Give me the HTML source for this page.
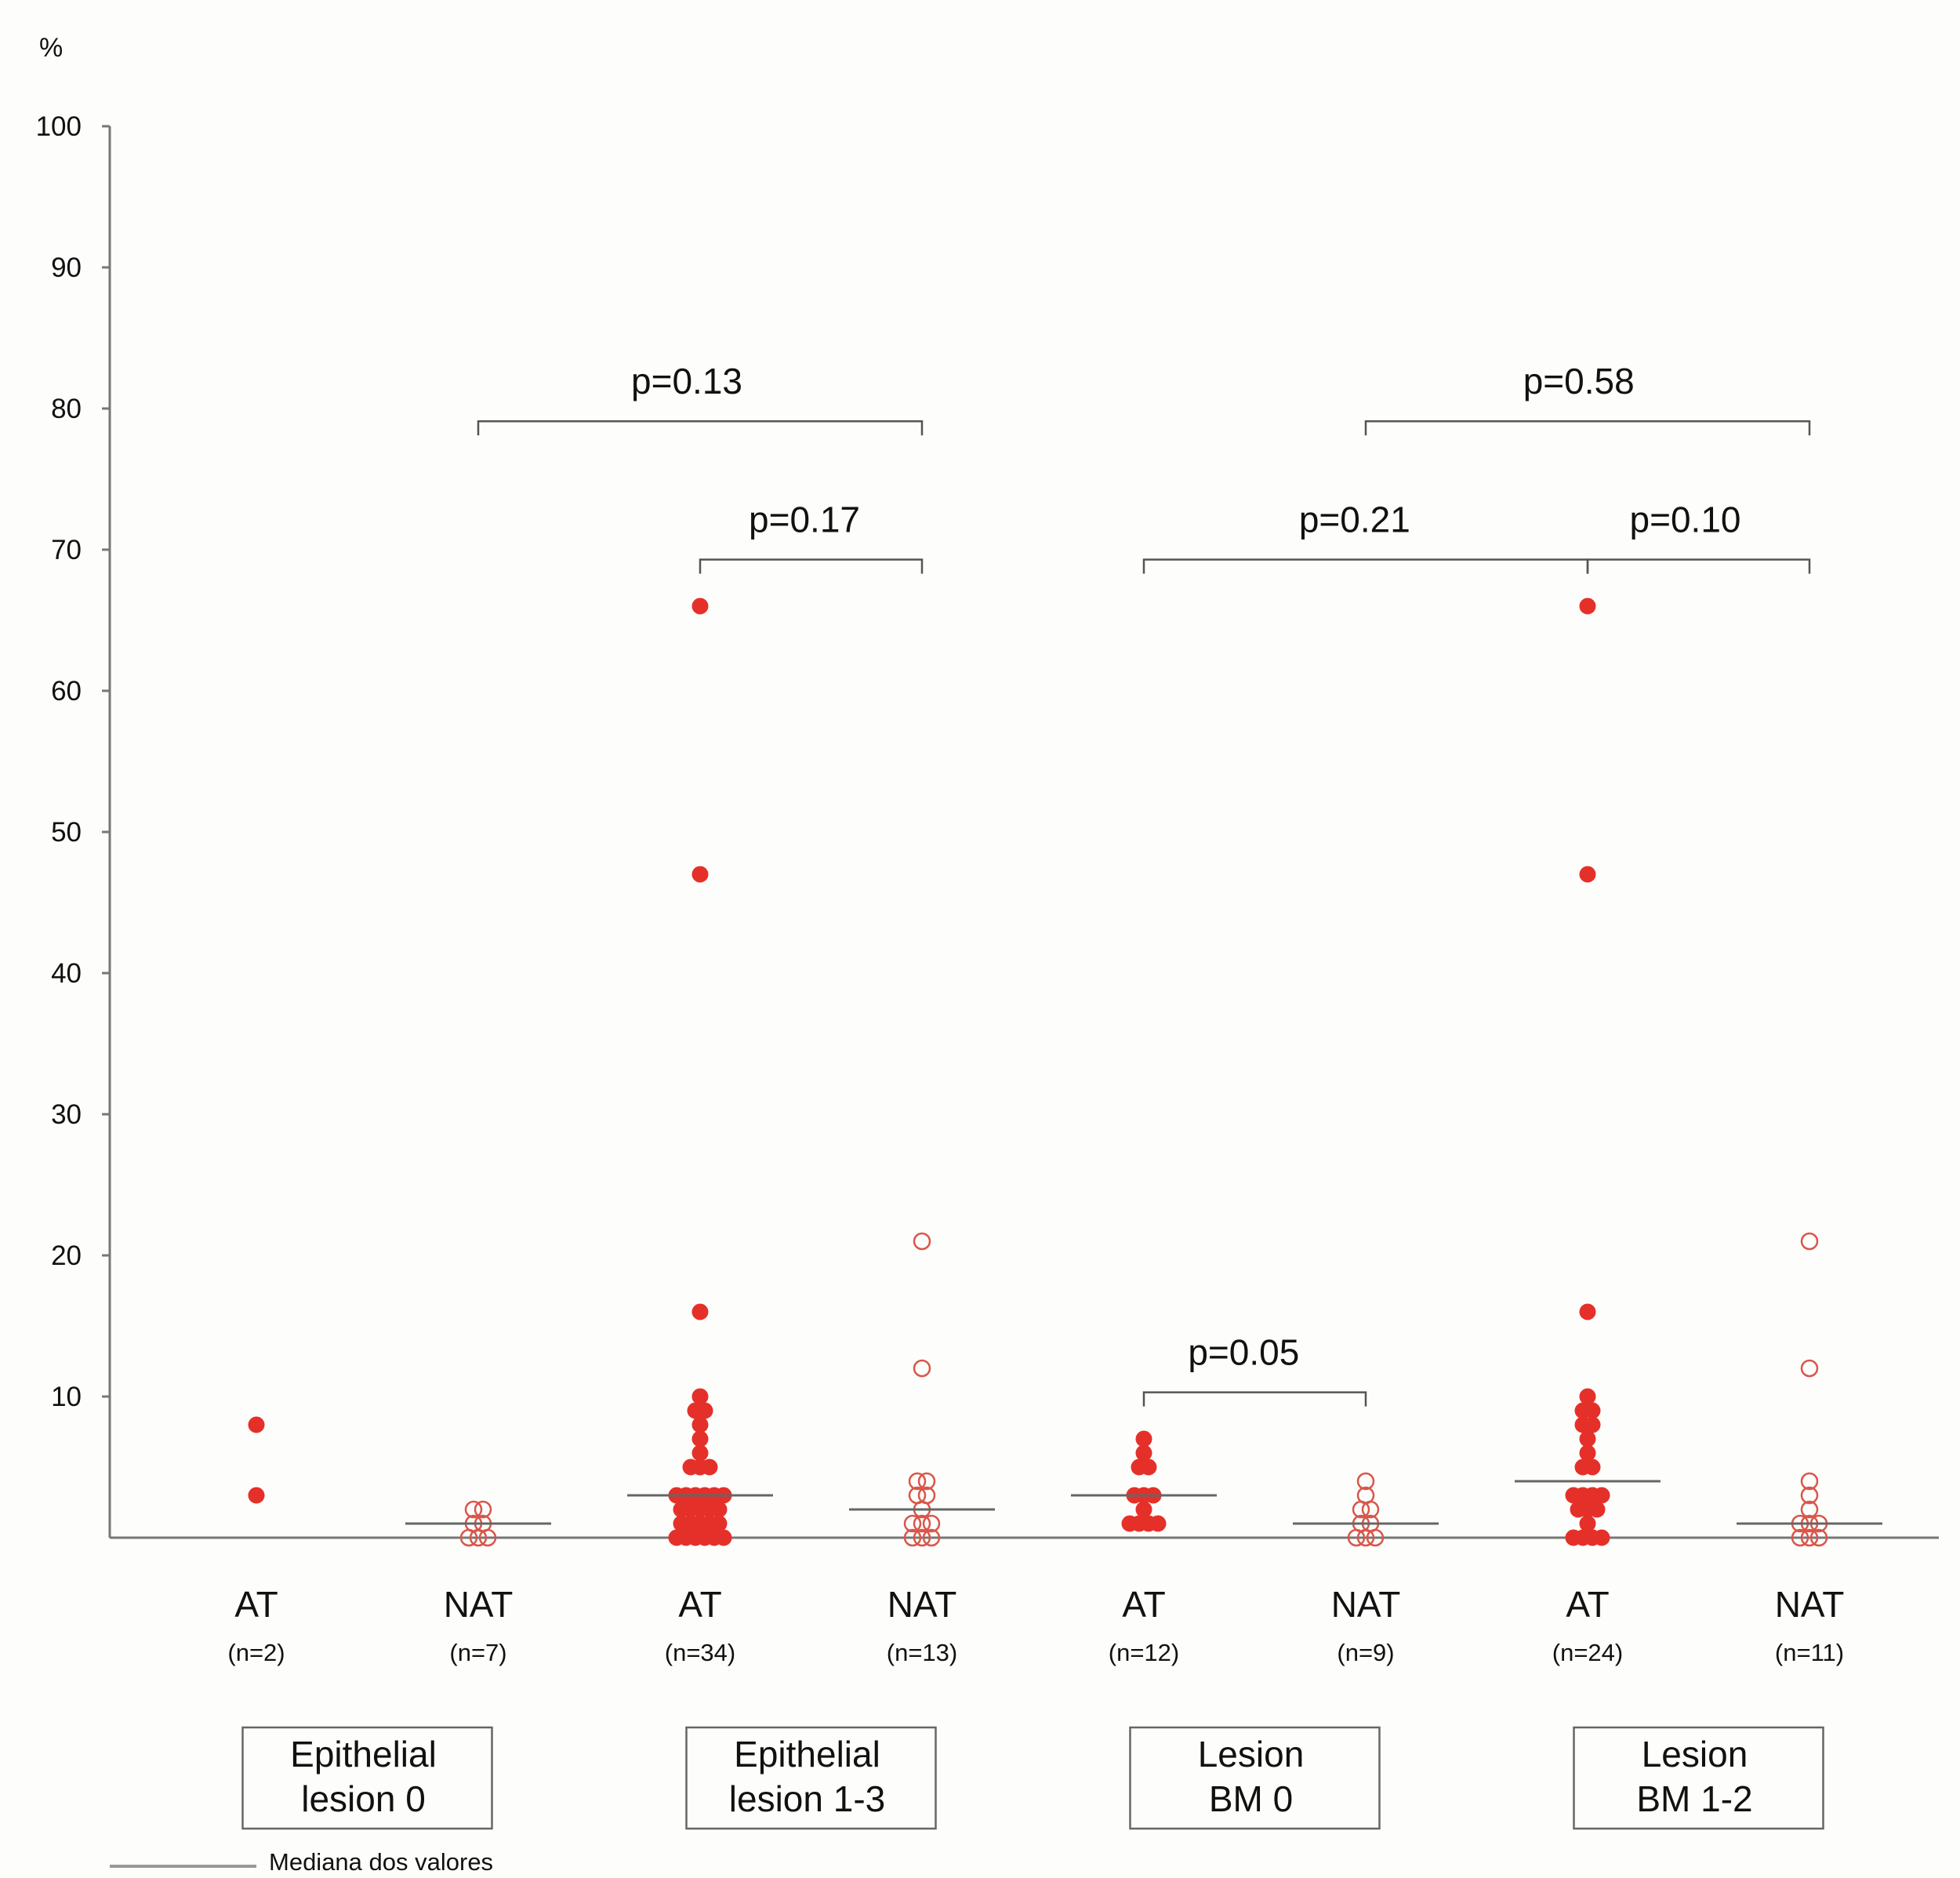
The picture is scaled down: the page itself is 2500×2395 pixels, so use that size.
<!DOCTYPE html>
<html><head><meta charset="utf-8"><style>
html,body{margin:0;padding:0;background:#fdfdfb}
svg{display:block}
text{font-family:"Liberation Sans",sans-serif;fill:#111}
</style></head><body>
<svg id="chart" width="2500" height="2395" viewBox="0 0 2500 2395" xmlns="http://www.w3.org/2000/svg">
<rect width="2500" height="2395" fill="#fdfdfb"/>
<g id="axes"></g>
<g id="marks"></g>
<g id="annot"></g>
</svg>
<script>
const yTicks = [10,20,30,40,50,60,70,80,90,100];
const categories = ["AT","NAT","AT","NAT","AT","NAT","AT","NAT"];
const nLabels = ["(n=2)","(n=7)","(n=34)","(n=13)","(n=12)","(n=9)","(n=24)","(n=11)"];
const filled = [true,false,true,false,true,false,true,false];
const s0 = [8,3];
const s1 = [2,2,1,1,0,0,0];
const s2 = [66,47,16,10,9,9,8,7,6,5,5,5,3,3,3,3,3,3,2,2,2,2,2,1,1,1,1,1,0,0,0,0,0,0];
const s3 = [21,12,4,4,3,3,2,1,1,1,0,0,0];
const s4 = [7,6,5,5,3,3,3,2,1,1,1,1];
const s5 = [4,3,2,2,1,1,0,0,0];
const s6 = [66,47,16,10,9,9,8,8,7,6,5,5,3,3,3,3,2,2,2,1,0,0,0,0];
const s7 = [21,12,4,3,2,1,1,1,0,0,0];
const series = [s0,s1,s2,s3,s4,s5,s6,s7];
const medians = [null,1,3,2,3,1,4,1];
const groupNames = [["Epithelial","lesion 0"],["Epithelial","lesion 1-3"],["Lesion","BM 0"],["Lesion","BM 1-2"]];
const bracketFrom = [1,2,4,4,6,5];
const bracketTo = [3,3,5,6,7,7];
const bracketLevel = [79.1,69.3,10.3,69.3,69.3,79.1];
const bracketLabels = ["p=0.13","p=0.17","p=0.05","p=0.21","p=0.10","p=0.58"];
const bracketLabelPos = [1.94,2.47,4.45,4.95,6.44,5.96];

const NS="http://www.w3.org/2000/svg";
const X0=140, Y0=1961, PX=18.0;
function yS(v){return Y0 - v*PX;}
function xS(i){return 327 + i*283.0;}
function mk(tag,attrs,parent,txt){const e=document.createElementNS(NS,tag);for(const k in attrs)e.setAttribute(k,attrs[k]);if(txt!==undefined)e.textContent=txt;parent.appendChild(e);return e;}
const axes=document.getElementById('axes'), marks=document.getElementById('marks'), annot=document.getElementById('annot');

let e=mk('line',{x1:X0,y1:yS(100),x2:X0,y2:Y0,stroke:'#777','stroke-width':3},axes);


e=mk('line',{x1:X0,y1:Y0,x2:2473,y2:Y0,stroke:'#777','stroke-width':3},axes);


e=mk('text',{x:50,y:72,'font-size':34},axes,'%');


yTicks.forEach(t=>{
  let l=mk('line',{x1:X0-10,y1:yS(t),x2:X0,y2:yS(t),stroke:'#777','stroke-width':3},axes);
  
  
  let tx=mk('text',{x:104,y:yS(t)+12,'font-size':35,'text-anchor':'end'},axes,String(t));
  
  
});

const R=10, DX=12;
series.forEach((vals,i)=>{
  const counts={};
  vals.forEach(v=>counts[v]=(counts[v]||0)+1);
  const idx={};
  vals.forEach(v=>{
    const n=counts[v]; const k=idx[v]||0; idx[v]=k+1;
    const cx=xS(i)+(k-(n-1)/2)*DX;
    const c=mk('circle',{cx:cx,cy:yS(v),r:R,fill:filled[i]?'#e5302a':'none',stroke:filled[i]?'#e5302a':'#d9564a','stroke-width':filled[i]?1:2.5},marks);
    
    
  });
  if(medians[i]!==null){
    const m=mk('line',{x1:xS(i)-93,y1:yS(medians[i]),x2:xS(i)+93,y2:yS(medians[i]),stroke:'#666','stroke-width':3},marks);
    
    
  }
  let t=mk('text',{x:xS(i),y:2062,'font-size':46,'text-anchor':'middle'},annot,categories[i]);
  
  
  t=mk('text',{x:xS(i),y:2118,'font-size':31,'text-anchor':'middle'},annot,nLabels[i]);
  
  
});

groupNames.forEach((g,j)=>{
  const cx=(xS(2*j)+xS(2*j+1))/2;
  const r=mk('rect',{x:cx-159,y:2203,width:318,height:129,fill:'none',stroke:'#666','stroke-width':2.5},annot);
  
  
  let t=mk('text',{x:cx-5,y:2253,'font-size':46,'text-anchor':'middle'},annot,g[0]);
  
  
  t=mk('text',{x:cx-5,y:2310,'font-size':46,'text-anchor':'middle'},annot,g[1]);
  
  
});

bracketLabels.forEach((lab,b)=>{
  const x1=xS(bracketFrom[b]), x2=xS(bracketTo[b]), y=yS(bracketLevel[b]);
  const p=mk('path',{d:`M${x1} ${y+18}V${y}H${x2}V${y+18}`,fill:'none',stroke:'#555','stroke-width':2.5},annot);
  
  
  const t=mk('text',{x:xS(bracketLabelPos[b]),y:y-35,'font-size':46,'text-anchor':'middle'},annot,lab);
  
  
});

e=mk('line',{x1:140,y1:2380,x2:327,y2:2380,stroke:'#999','stroke-width':4},annot);


e=mk('text',{x:343,y:2385,'font-size':31},annot,'Mediana dos valores');


</script>
</body></html>
